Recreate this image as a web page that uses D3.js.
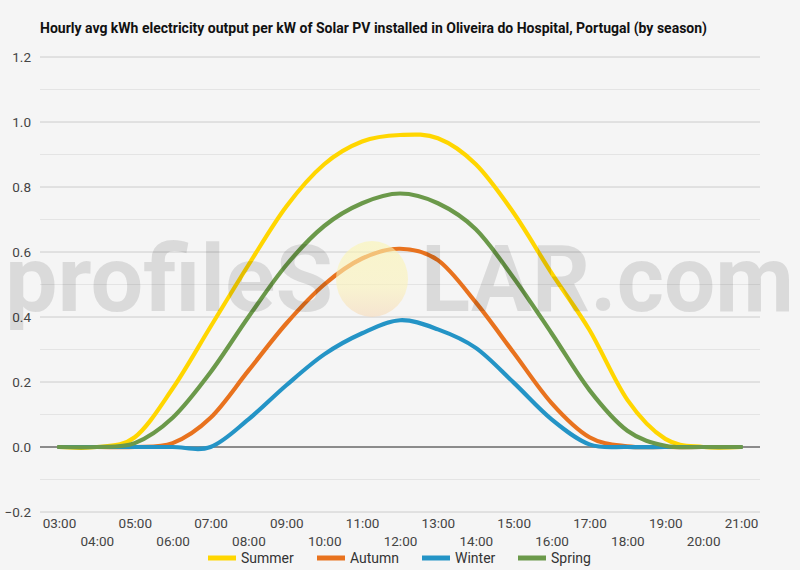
<!DOCTYPE html>
<html><head><meta charset="utf-8">
<script src="https://cdn.jsdelivr.net/npm/d3@7"></script>
<style>
html,body{margin:0;padding:0;background:#f5f5f5;}
svg{display:block;font-family:Roboto, "Noto Sans", sans-serif;}
</style></head>
<body>
<svg id="chart" width="800" height="570"></svg>
<script>
const hours = ["03:00","04:00","05:00","06:00","07:00","08:00","09:00","10:00","11:00","12:00","13:00","14:00","15:00","16:00","17:00","18:00","19:00","20:00","21:00"];
const seriesNames = ["Summer","Autumn","Winter","Spring"];
const seriesColors = ["#FFD600","#E8721E","#2494C6","#6B994A"];
const summer = [0, 0, 0.03, 0.18, 0.37, 0.56, 0.74, 0.87, 0.94, 0.96, 0.95, 0.87, 0.72, 0.535, 0.36, 0.145, 0.025, 0, 0];
const autumn = [0, 0, 0, 0.012, 0.09, 0.235, 0.38, 0.50, 0.58, 0.61, 0.575, 0.445, 0.29, 0.135, 0.03, 0.002, 0, 0, 0];
const winter = [0, 0, 0, 0, 0, 0.085, 0.19, 0.285, 0.35, 0.39, 0.362, 0.305, 0.198, 0.085, 0.008, 0, 0, 0, 0];
const spring = [0, 0, 0.012, 0.09, 0.23, 0.40, 0.56, 0.68, 0.75, 0.78, 0.75, 0.67, 0.52, 0.35, 0.175, 0.05, 0.004, 0, 0];
const yTicks = [-0.2, 0, 0.2, 0.4, 0.6, 0.8, 1.0, 1.2];
const yMinor = [-0.1, 0.1, 0.3, 0.5, 0.7, 0.9, 1.1];
const title = "Hourly avg kWh electricity output per kW of Solar PV installed in Oliveira do Hospital, Portugal (by season)";
const watermarkLeft = "profileS";
const watermarkRight = "LAR.com";

const allSeries = [summer, autumn, winter, spring];
const svg = d3.select("#chart");
const W = 800, H = 570;
const m = {left:40, right:40, top:57, bottom:58};

const x = d3.scalePoint().domain(hours).range([m.left, W - m.right]).padding(0.5);
const y = d3.scaleLinear().domain([-0.2, 1.2]).range([H - m.bottom, m.top]);

svg.append("rect").attr("width", W).attr("height", H).attr("fill", "#f5f5f5");

// title
svg.append("text").attr("x", 40).attr("y", 33)
  .attr("font-size", 14).attr("font-weight", "bold").attr("fill", "#111")
  .text(title);

// minor grid
svg.append("g").selectAll("line").data(yMinor).join("line")
  .attr("x1", m.left).attr("x2", W - m.right)
  .attr("y1", d => y(d)).attr("y2", d => y(d))
  .attr("stroke", "#e4e4e4").attr("stroke-width", 1);

// major grid
svg.append("g").selectAll("line").data(yTicks.filter(d => d !== 0)).join("line")
  .attr("x1", m.left).attr("x2", W - m.right)
  .attr("y1", d => y(d)).attr("y2", d => y(d))
  .attr("stroke", "#cccccc").attr("stroke-width", 1);

// y axis labels
const yAxis = d3.axisLeft(y).tickValues(yTicks).tickFormat(d3.format(".1f")).tickSize(0).tickPadding(9);
const gy = svg.append("g").attr("transform", `translate(${m.left},0)`).call(yAxis);
gy.select(".domain").remove();
gy.selectAll("text").attr("font-size", 13.5).attr("fill", "#444").attr("font-family", "Roboto, sans-serif");

// x axis labels (staggered)
const xAxis = d3.axisBottom(x).tickSize(0).tickPadding(0);
const gx = svg.append("g").attr("transform", `translate(0,${y(-0.2)})`).call(xAxis);
gx.select(".domain").remove();
gx.selectAll("text")
  .attr("font-size", 13.5).attr("fill", "#444").attr("font-family", "Roboto, sans-serif")
  .attr("dy", null)
  .attr("y", (d, i) => i % 2 === 0 ? 16 : 34);

// lines
const line = d3.line().x((d, i) => x(hours[i])).y(d => y(d)).curve(d3.curveCardinal);

// zero line
svg.append("line").attr("x1", m.left).attr("x2", W - m.right)
  .attr("y1", y(0)).attr("y2", y(0)).attr("stroke", "#222").attr("stroke-width", 1);

svg.append("g").selectAll("path").data(allSeries).join("path")
  .attr("d", d => line(d))
  .attr("fill", "none")
  .attr("stroke", (d, i) => seriesColors[i])
  .attr("stroke-width", 4.2)
  .attr("stroke-linejoin", "round")
  .attr("stroke-linecap", "round");

// watermark
const defs = svg.append("defs");
const grad = defs.append("linearGradient").attr("id", "sun").attr("x1", 0).attr("y1", 0).attr("x2", 0).attr("y2", 1);
grad.append("stop").attr("offset", "0%").attr("stop-color", "#fbf5b0");
grad.append("stop").attr("offset", "60%").attr("stop-color", "#fbf2b8");
grad.append("stop").attr("offset", "100%").attr("stop-color", "#f6d9b8");
const wm = svg.append("g").attr("pointer-events", "none");
wm.append("ellipse").attr("cx", 372).attr("cy", 279).attr("rx", 36).attr("ry", 38)
  .attr("fill", "url(#sun)").attr("opacity", 0.6);
wm.append("text").attr("x", 5).attr("y", 311)
  .attr("font-size", 92).attr("font-weight", 700).attr("fill", "#000").attr("fill-opacity", 0.11)
  .attr("textLength", 328).attr("lengthAdjust", "spacingAndGlyphs")
  .text(watermarkLeft);
wm.append("text").attr("x", 421).attr("y", 311)
  .attr("font-size", 92).attr("font-weight", 700).attr("fill", "#000").attr("fill-opacity", 0.11)
  .attr("textLength", 373).attr("lengthAdjust", "spacingAndGlyphs")
  .text(watermarkRight);

// legend
const legendX = [208, 317, 422, 518];
const lg = svg.append("g").selectAll("g").data(seriesNames).join("g")
  .attr("transform", (d, i) => `translate(${legendX[i]},558)`);
lg.append("line").attr("x1", 0).attr("x2", 28).attr("y1", 0).attr("y2", 0)
  .attr("stroke", (d, i) => seriesColors[i]).attr("stroke-width", 5);
lg.append("text").attr("x", 33).attr("y", 5).attr("font-size", 14).attr("fill", "#333")
  .text(d => d);
</script>
</body></html>
